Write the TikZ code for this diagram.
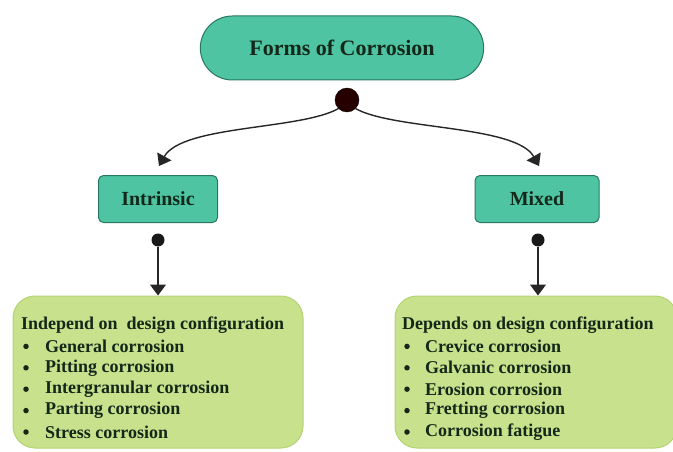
\documentclass[tikz,border=0pt]{standalone}
\usepackage{fontspec}
\setmainfont{Liberation Serif}
\usetikzlibrary{arrows.meta,shapes.misc}
\definecolor{teal1}{RGB}{78,196,162}
\definecolor{tealb}{RGB}{40,120,95}
\definecolor{lgreen}{RGB}{200,225,140}
\definecolor{lgreenb}{RGB}{180,212,115}
\definecolor{txt}{RGB}{20,40,25}
\begin{document}
\begin{tikzpicture}[x=1pt,y=-1pt,
  topbox/.style={rounded rectangle,draw=tealb,line width=1pt,fill=teal1,minimum width=290pt,minimum height=64pt,font=\fontsize{22}{26}\selectfont\bfseries,text=txt},
  midbox/.style={rectangle,rounded corners=5pt,draw=tealb,line width=1pt,fill=teal1,minimum height=47pt,font=\fontsize{20}{24}\selectfont\bfseries,text=txt},
  listbox/.style={rectangle,rounded corners=22pt,draw=lgreenb,line width=1pt,fill=lgreen,minimum height=152pt},
  dotbig/.style={circle,fill=black!85!red,draw=black,inner sep=0pt,minimum size=24pt},
  dotsmall/.style={circle,fill=black!90,inner sep=0pt,minimum size=13pt},
  conn/.style={line width=1.4pt,draw=black!85,-{Triangle[width=16pt,length=11pt]}},
  ltext/.style={anchor=west,font=\fontsize{18}{21}\selectfont\bfseries,text=txt,inner sep=0pt},
  bul/.style={circle,fill=txt,inner sep=0pt,minimum size=5.5pt}
]
\useasboundingbox (0,0) rectangle (673,452);

\node[topbox] (top) at (342,48) {Forms of Corrosion};
\node[dotbig] (d0) at (347,100) {};

\node[midbox,minimum width=119pt] (intr) at (158,199) {Intrinsic};
\node[midbox,minimum width=124pt] (mix) at (537,199) {Mixed};

\draw[conn] (d0.south west) .. controls (300,130) and (182,125) .. (159,166);
\draw[conn] (d0.south east) .. controls (394,130) and (516,125) .. (539,166);

\node[dotsmall] (d1) at (158,240) {};
\node[dotsmall] (d2) at (538,240) {};

\node[listbox,minimum width=290pt] (lb) at (158,372) {};
\node[listbox,minimum width=282pt] (rb) at (536,372) {};

\draw[conn] (d1) -- (d1 |- lb.north);
\draw[conn] (d2) -- (d2 |- rb.north);

% left list
\node[ltext] (l0) at (21,325) {Independ on\ \ design configuration};
\foreach \t [count=\i] in {General corrosion,Pitting corrosion,Intergranular corrosion,Parting corrosion,Stress corrosion}{
  \node[bul] (lb\i) at (26,325+21.4*\i) {};
  \node[ltext] (lt\i) at (45,325+21.4*\i) {\t};
}
% right list
\node[ltext] (r0) at (402,325) {Depends on design configuration};
\foreach \t [count=\i] in {Crevice corrosion,Galvanic corrosion,Erosion corrosion,Fretting corrosion,Corrosion fatigue}{
  \node[bul] (rb\i) at (407,325+21.4*\i) {};
  \node[ltext] (rt\i) at (425,325+21.4*\i) {\t};
}
\end{tikzpicture}
\end{document}
